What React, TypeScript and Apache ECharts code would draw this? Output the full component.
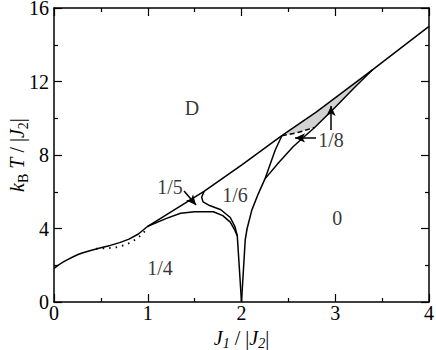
import React, { useEffect, useRef } from "react";
import * as echarts from "echarts";

// Phase boundaries: [J1/|J2|, kB T/|J2|]
const mainBoundary: number[][] = [
  [0, 1.83], [0.05, 2.02], [0.1, 2.18], [0.15, 2.32], [0.2, 2.45], [0.25, 2.57], [0.3, 2.67],
  [0.4, 2.82], [0.5, 2.95], [0.6, 3.08], [0.7, 3.23], [0.8, 3.42], [0.9, 3.7],
  [1.0, 4.12], [1.6, 6.02], [2.0, 7.45], [2.43, 9.05], [2.8, 10.35], [3.4, 12.65], [4.0, 15.0],
];
const dottedBoundary: number[][] = [
  [0.45, 2.9], [0.58, 2.93], [0.67, 2.98], [0.74, 3.08], [0.81, 3.22], [0.87, 3.4],
  [0.92, 3.6], [0.96, 3.8], [1.0, 4.1],
];
const quarterBoundary: number[][] = [
  [1.0, 4.12], [1.2, 4.55], [1.35, 4.83], [1.5, 4.91], [1.7, 4.91], [1.8, 4.7],
  [1.88, 4.35], [1.93, 3.9], [1.955, 3.6], [2.0, 0],
];
const fifthBoundary: number[][] = [
  [1.6, 6.02], [1.575, 5.7], [1.59, 5.45], [1.66, 5.25], [1.78, 5.02], [1.88, 4.6],
  [1.93, 4.1], [1.955, 3.6],
];
const sixthBoundary: number[][] = [
  [2.0, 0], [2.04, 3.4], [2.06, 4.0], [2.11, 5.0], [2.18, 5.9], [2.25, 6.7], [2.36, 8.27], [2.43, 9.05],
];
const eighthLower: number[][] = [
  [2.25, 6.7], [2.4, 7.6], [2.55, 8.45], [2.68, 9.05], [2.78, 9.5], [3.0, 10.6], [3.2, 11.65], [3.4, 12.65],
];
const dashedBoundary: number[][] = [[2.43, 9.05], [2.6, 9.22], [2.78, 9.5]];

// Region labels: [x, y, text]
const regionLabels: (number | string)[][] = [
  [1.472, 10.56, "D"],
  [1.237, 6.26, "1/5"],
  [1.93, 5.82, "1/6"],
  [1.13, 1.85, "1/4"],
  [3.02, 4.57, "0"],
  [2.955, 8.82, "1/8"],
];
// Arrows: [fromX, fromY, toX, toY]
const arrows: number[][] = [
  [1.387, 6.04, 1.515, 5.28],
  [2.795, 8.93, 2.571, 8.93],
  [2.955, 9.36, 2.955, 10.67],
];

const xTicks = [0, 4, 1];
const yTicks = [0, 16, 4];

const FONT = "'Liberation Serif', 'Times New Roman', serif";

export default function App() {
  const ref = useRef<HTMLDivElement>(null);
  useEffect(() => {
    if (!ref.current) return;
    const chart = echarts.init(ref.current, null, { renderer: "svg" });

    const top = mainBoundary.filter((p) => p[0] >= 2.43 && p[0] <= 3.4);
    const lowerBack = eighthLower.filter((p) => p[0] >= 2.78).slice().reverse();
    const dashBack = dashedBoundary.slice().reverse();
    const shadePoly = [...top, ...lowerBack, ...dashBack.slice(1)];

    const axisLine = { show: true, onZero: false, lineStyle: { color: "#000", width: 1.5 } };
    const tick = { show: true, inside: true, length: 8, lineStyle: { color: "#000", width: 1.2 } };
    const minor = { show: true, splitNumber: 2, length: 4, lineStyle: { color: "#000", width: 1.2 } };

    const lineSeries = (data: number[][], type: any = "solid", width = 1.5) => ({
      type: "line",
      data,
      showSymbol: false,
      symbol: "none",
      lineStyle: { color: "#000", width, type },
      silent: true,
      z: 3,
    });

    const richName = (subItalic: boolean) => ({
      i: { fontSize: 20, fontStyle: "italic", fontFamily: FONT, color: "#000", lineHeight: 20 },
      s: { fontSize: 14, fontStyle: subItalic ? "italic" : "normal", fontFamily: FONT, color: "#000", verticalAlign: "bottom", lineHeight: 14, padding: [0, 0, -3, 0] },
      n: { fontSize: 20, fontFamily: FONT, color: "#000", lineHeight: 20 },
    });

    chart.setOption({
      animation: false,
      textStyle: { fontFamily: FONT },
      grid: { left: 54, right: 7, top: 8, bottom: 48, containLabel: false, outerBoundsMode: "none" },
      xAxis: [
        {
          type: "value", min: xTicks[0], max: xTicks[1], interval: xTicks[2], position: "bottom",
          axisLine, axisTick: tick, minorTick: minor, splitLine: { show: false },
          axisLabel: { color: "#000", fontSize: 20, fontFamily: FONT, margin: 1 },
          name: "{i|J}{s|1}{n| / |}{i|J}{s|2}{n||}",
          nameLocation: "middle", nameGap: 23,
          nameTextStyle: { color: "#000", rich: richName(true) },
        },
        {
          type: "value", min: xTicks[0], max: xTicks[1], interval: xTicks[2], position: "top",
          axisLine, axisTick: tick, minorTick: minor, splitLine: { show: false }, axisLabel: { show: false },
        },
      ],
      yAxis: [
        {
          type: "value", min: yTicks[0], max: yTicks[1], interval: yTicks[2], position: "left",
          axisLine, axisTick: tick, minorTick: minor, splitLine: { show: false },
          axisLabel: { color: "#000", fontSize: 20, lineHeight: 16, fontFamily: FONT, margin: 5 },
          name: "{i|k}{s|B}{n| }{i|T}{n| / |}{i|J}{s|2}{n||}",
          nameLocation: "middle", nameGap: 27, nameRotate: 90, nameMoveOverlap: false,
          nameTextStyle: { color: "#000", rich: richName(false) },
        },
        {
          type: "value", min: yTicks[0], max: yTicks[1], interval: yTicks[2], position: "right",
          axisLine, axisTick: tick, minorTick: minor, splitLine: { show: false }, axisLabel: { show: false },
        },
      ],
      series: [
        {
          type: "custom",
          silent: true,
          z: 2,
          data: [0],
          renderItem: (params: any, api: any) => ({
            type: "polygon",
            shape: { points: shadePoly.map((p) => api.coord(p)) },
            style: { fill: "#d2d2d2", stroke: "none" },
          }),
        },
        lineSeries(mainBoundary),
        lineSeries(dottedBoundary, [1.5, 5], 1.8),
        lineSeries(quarterBoundary),
        lineSeries(fifthBoundary),
        lineSeries(sixthBoundary),
        lineSeries(eighthLower),
        lineSeries(dashedBoundary, [5, 3]),
        {
          type: "scatter",
          data: regionLabels,
          symbolSize: 0,
          silent: true,
          label: {
            show: true,
            position: "inside",
            formatter: (p: any) => p.value[2],
            fontSize: 20,
            fontFamily: FONT,
            color: "#000",
          },
          markLine: {
            silent: true,
            symbol: ["none", "arrow"],
            symbolSize: [7, 10],
            label: { show: false },
            lineStyle: { color: "#000", width: 1.5, type: "solid" },
            data: arrows.map((a) => [{ coord: [a[0], a[1]] }, { coord: [a[2], a[3]] }]),
          },
          z: 4,
        },
      ],
    });
    return () => chart.dispose();
  }, []);
  return <div ref={ref} style={{ position: "fixed", left: 0, top: 0, width: 436, height: 350, background: "#fff" }} />;
}
